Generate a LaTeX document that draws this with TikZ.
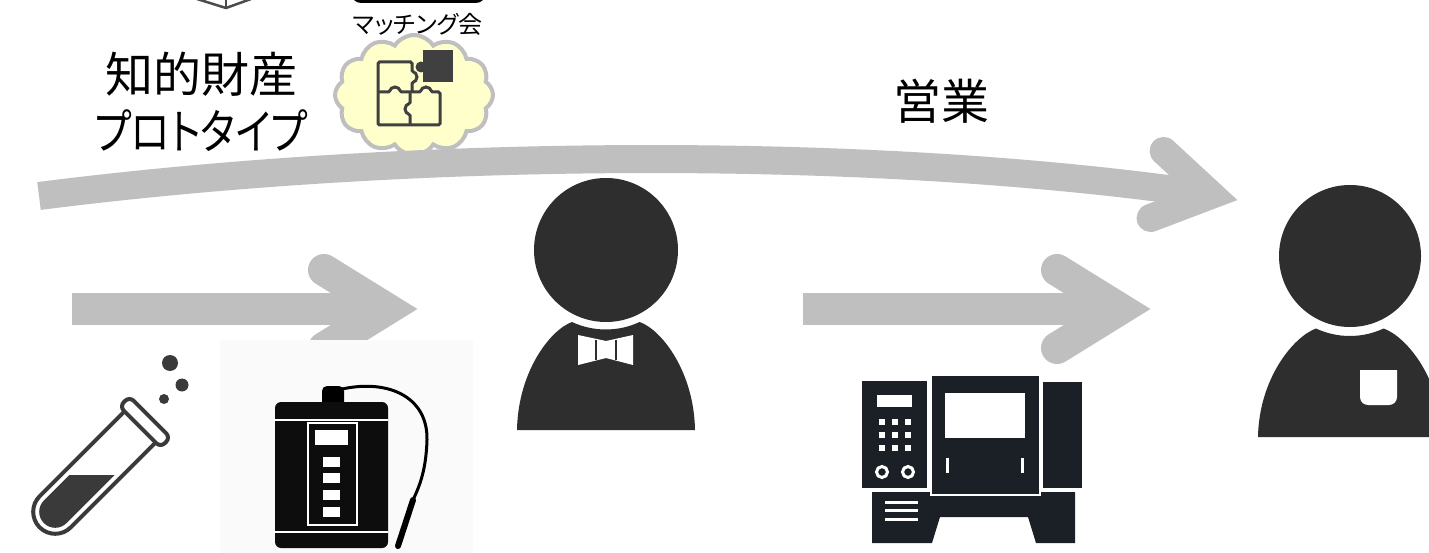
\documentclass[tikz,border=0pt]{standalone}
\usepackage{graphicx}
\usepackage{fontspec}
\newfontfamily\jpfont[RawFeature=+palt]{Noto Sans CJK JP}
\usetikzlibrary{shapes.symbols,calc}
\definecolor{arrowgray}{HTML}{BFBFBF}
\definecolor{cloudfill}{HTML}{FFFFCC}
\definecolor{figdark}{HTML}{2E2E2E}
\definecolor{puzzledark}{HTML}{404040}
\definecolor{tubedark}{HTML}{3A3A3A}
\definecolor{faxdark}{HTML}{1A2026}
\definecolor{devbg}{HTML}{FAFAFA}
\begin{document}
\begin{tikzpicture}[x=1pt,y=-1pt,
  bigtext/.style={font=\jpfont\fontsize{48}{57}\selectfont, align=center, inner sep=0pt},
  smalltext/.style={font=\jpfont\fontsize{24}{26}\selectfont, inner sep=0pt},
  band/.style={draw=arrowgray, line width=#1},
  pics/chevron/.style={code={
    \draw[arrowgray, line width=#1, line cap=round, line join=miter]
      (-93,-39) -- (-30,0) -- (-93,39);}},
  person/.style={fill=figdark},
  puzzle/.style={draw=puzzledark, line width=3, rounded corners=1.5},
  tube/.style={draw=tubedark, line width=4},
  fax/.style={fill=faxdark},
  ionizer/.style={fill=black!95},
  whiteline/.style={draw=white, line width=2}]

\useasboundingbox (0,0) rectangle (1429,553);
\clip (0,0) rectangle (1429,553);
\fill[white] (0,0) rectangle (1429,553);

% ---- cropped icons along the top edge
\draw[draw=black!70, line width=2.5] (197,-1) -- (226,8) -- (251,-1);
\draw[draw=black!70, line width=2.5] (226,-1) -- (226,8);
\draw[black, line width=3.5, rounded corners=8] (353,-40) rectangle (484,1.2);
\node[smalltext] (match) at (418,24) {マッチング会};

% ---- matching cloud with puzzle icon
\node[cloud, cloud puffs=12, cloud puff arc=115, aspect=1.3, draw=arrowgray,
      line width=4, fill=cloudfill, minimum width=158, minimum height=120]
      (meet) at (414,95) {};
\draw[puzzle] (378,62) -- (412,62) -- (412,72)
   arc[start angle=-90, end angle=90, radius=5] -- (412,92) -- (421,92)
   arc[start angle=180, end angle=360, radius=5] -- (440,92) -- (440,125)
   -- (378,125) -- cycle;
\draw[puzzle] (378,92) -- (390,92) arc[start angle=180, end angle=360, radius=5] -- (412,92);
\draw[puzzle] (410,92) -- (410,104) arc[start angle=-90, end angle=-270, radius=5] -- (410,125);
\fill[puzzledark] (423,50) rectangle (453,82);
\fill[puzzledark] (421,67) circle[radius=5.5];

% ---- texts
\node[bigtext] (ip) at (201,102) {知的財産\\\scalebox{0.83}[1]{プロトタイプ}};
\node[bigtext] (sales) at (941,101) {営業};

% ---- long curved arrow
\coordinate (c1s) at (39,196);
\coordinate (c1e) at (1190,192);
\coordinate (c1t) at (1237,200);
\draw[band=28] (c1s) .. controls (400,150) and (850,145) .. (c1e);
\pic[rotate=-11, scale=0.875] at (c1t) {chevron=28};

% ---- straight arrows
\coordinate (r1s) at (72,309);
\coordinate (r1t) at (417,309);
\draw[band=32] (r1s) -- ($(r1t)+(-30,0)$);
\pic at (r1t) {chevron=32};
\coordinate (r2s) at (803,309);
\coordinate (r2t) at (1150,309);
\draw[band=32] (r2s) -- ($(r2t)+(-30,0)$);
\pic at (r2t) {chevron=32};

% ---- test tube
\begin{scope}[shift={(145,422)}, rotate=225]
  \begin{scope}
    \clip (7,-16) -- (127,-16) arc[start angle=-90, end angle=90, radius=16] -- (7,16) -- cycle;
    \fill[tubedark] (25,-50) -- (125,50) -- (260,50) -- (260,-50) -- cycle;
  \end{scope}
  \draw[tube] (7,-22) -- (127,-22) arc[start angle=-90, end angle=90, radius=22] -- (7,22);
  \draw[tube, rounded corners=6] (-7,-29) rectangle (7,29);
\end{scope}
\fill[tubedark] (170,363) circle[radius=8];
\fill[tubedark] (182,385) circle[radius=6.5];
\fill[tubedark] (164,399) circle[radius=5];

% ---- water ionizer
\fill[devbg] (220,340) rectangle (473,553);
\draw[black, line width=3] (338,390) .. controls (385,378) and (428,395) .. (427,440)
   .. controls (426,470) and (420,485) .. (413,500);
\draw[black, line width=6, line cap=round] (413,500) -- (398,546);
\fill[black, rounded corners=5] (322,386) rectangle (344,410);
\fill[ionizer, rounded corners=6] (275,402) rectangle (388,548);
\draw[whiteline] (275,420) -- (388,420);
\draw[whiteline] (275,532) -- (388,532);
\draw[whiteline] (308,423) rectangle (357,525);
\fill[white] (315,430) rectangle (348,445);
\foreach \yy in {457,473,490,507}
  \fill[white] (323,\yy) rectangle (340,\yy+10);

% ---- fax / phone unit
\fill[fax] (862,381) rectangle (927,488);
\fill[fax] (1043,382) rectangle (1082,488);
\fill[fax] (872,492) -- (1075,492) -- (1075,543) -- (1036,543) -- (1028,517)
   -- (940,517) -- (932,543) -- (872,543) -- cycle;
\draw[fill=faxdark, draw=white, line width=2.5] (931,375) rectangle (1040,495);
\fill[white] (945,393) rectangle (1025,438);
\fill[white] (946,458) rectangle (949,473);
\fill[white] (1021,458) rectangle (1024,473);
\fill[white] (877,395) rectangle (912,407);
\foreach \xx in {882,895,908}
  \foreach \yy in {422,435,448}
    \fill[white] (\xx-3,\yy-3) rectangle (\xx+3,\yy+3);
\draw[white, line width=3] (882,472) circle[radius=5.5];
\draw[white, line width=3] (908,472) circle[radius=5.5];
\foreach \yy in {502,510,519}
  \draw[white, line width=3] (885,\yy) -- (918,\yy);

% ---- person with bow tie
\coordinate (p1) at (606,250);
\fill[person] (p1) circle[radius=72];
\fill[person] (517,430) .. controls (518,372) and (550,330) .. (572,322)
   arc[start angle=115, end angle=65, radius=80]
   .. controls (662,330) and (694,372) .. (695,430) -- cycle;
\fill[white] (578,335) -- (606,341) -- (633,335) -- (633,365) -- (606,358) -- (578,365) -- cycle;
\draw[figdark, line width=2] (596,340) -- (596,360) (616,340) -- (616,360);

% ---- person with pocket
\coordinate (p2) at (1350,256);
\fill[person] (p2) circle[radius=71];
\fill[person] (1258,437) .. controls (1259,379) and (1293,337) .. (1316,328.5)
   arc[start angle=115, end angle=65, radius=80]
   .. controls (1407,337) and (1441,379) .. (1442,437) -- cycle;
\fill[white] (1360,370) -- (1397,370) -- (1397,397)
   arc[start angle=0, end angle=90, radius=8] -- (1368,405)
   arc[start angle=90, end angle=180, radius=8] -- cycle;
\end{tikzpicture}
\end{document}
